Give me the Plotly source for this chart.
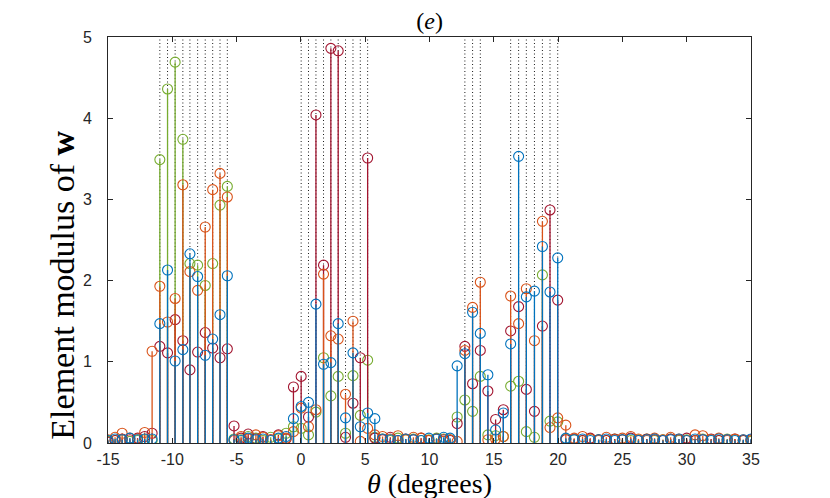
import plotly.graph_objects as go

# angle grid (degrees), split into background / interference segments
theta = [
    -15.0, -14.45, -13.9, -13.3, -12.7, -12.15, -11.57,                       # bg
    -10.97, -10.37, -9.78, -9.18, -8.63, -8.03, -7.44, -6.86, -6.29, -5.72,   # group 1
    -5.2, -4.65, -4.1, -3.5, -2.95, -2.35, -1.75, -1.15, -0.58,               # bg
    0.02, 0.59, 1.17, 1.76, 2.33, 2.90, 3.47, 4.05, 4.62, 5.19,               # group 2
    5.75, 6.35, 6.95, 7.55, 8.15, 8.75, 9.35, 9.95, 10.55, 11.1, 11.6, 12.15, # bg
    12.75, 13.35, 13.95,                                                      # group 3
    14.54, 15.14, 15.74,                                                      # bg
    16.31, 16.93, 17.53, 18.16, 18.78, 19.37, 19.97,                          # group 4
    20.6, 21.25, 21.9, 22.5, 23.15, 23.75, 24.4, 25.0, 25.65, 26.25, 26.9, 27.5,
    28.15, 28.75, 29.4, 30.0, 30.65, 31.25, 31.9, 32.5, 33.15, 33.75, 34.4, 35.0,
]

# dotted reference lines (interference directions)
theta_marks = [
    -10.97, -10.37, -9.78, -9.18, -8.63, -8.03, -7.44, -6.86, -6.29, -5.72,
    0.02, 0.59, 1.17, 1.76, 2.33, 2.90, 3.47, 4.05, 4.62, 5.19,
    12.75, 13.35, 13.95,
    16.31, 16.93, 17.53, 18.16, 18.78, 19.37, 19.97,
]

x_ticks = [-15, -10, -5, 0, 5, 10, 15, 20, 25, 30, 35]
y_ticks = [0, 1, 2, 3, 4, 5]

w_blue = [
    0.03, 0.05, 0.04, 0.06, 0.04, 0.05, 0.05,
    1.47, 2.13, 1.01, 1.15, 2.33, 2.05, 1.08, 1.28, 1.58, 2.06,
    0.04, 0.03, 0.06, 0.04, 0.05, 0.03, 0.06, 0.08, 0.30,
    0.45, 0.50, 1.71, 0.97, 0.99, 1.47, 0.31, 1.11, 0.20, 0.37,
    0.30, 0.05, 0.04, 0.03, 0.05, 0.04, 0.03, 0.06, 0.05, 0.07, 0.06, 0.95,
    1.10, 1.61, 1.35,
    0.84, 0.16, 0.37,
    1.22, 3.53, 1.80, 1.87, 2.42, 1.86, 2.28,
    0.06, 0.04, 0.05, 0.03, 0.04, 0.05, 0.03, 0.04, 0.05, 0.03, 0.04, 0.05,
    0.03, 0.04, 0.05, 0.03, 0.05, 0.04, 0.03, 0.05, 0.04, 0.03, 0.04, 0.05,
]

w_orange = [
    0.04, 0.07, 0.12, 0.06, 0.05, 0.13, 1.13,
    1.93, 1.49, 1.78, 3.18, 2.11, 1.88, 2.66, 3.12, 3.32, 3.03,
    0.03, 0.08, 0.05, 0.10, 0.07, 0.04, 0.09, 0.06, 0.14,
    0.43, 0.20, 0.41, 2.08, 1.32, 1.28, 0.60, 1.50, 0.02, 0.18,
    0.10, 0.08, 0.05, 0.09, 0.04, 0.07, 0.06, 0.03, 0.05, 0.02, 0.04, 0.02,
    1.14, 1.67, 1.98,
    0.04, 0.05, 0.08,
    1.81, 1.47, 1.90, 1.26, 2.73, 0.19, 0.31,
    0.22, 0.06, 0.08, 0.05, 0.03, 0.07, 0.04, 0.06, 0.08, 0.05, 0.03, 0.06,
    0.04, 0.07, 0.05, 0.03, 0.10, 0.09, 0.04, 0.06, 0.03, 0.05, 0.04, 0.03,
]

w_green = [
    0.02, 0.03, 0.04, 0.02, 0.03, 0.04, 0.03,
    3.49, 4.36, 4.69, 3.74, 2.21, 2.19, 1.94, 2.21, 2.93, 3.16,
    0.05, 0.04, 0.08, 0.06, 0.03, 0.07, 0.05, 0.12, 0.20,
    0.18, 0.10, 0.38, 1.05, 0.58, 0.82, 0.12, 0.83, 0.34, 1.02,
    0.07, 0.05, 0.03, 0.06, 0.04, 0.05, 0.03, 0.04, 0.06, 0.05, 0.04, 0.32,
    0.53, 0.39, 0.82,
    0.10, 0.09, 0.08,
    0.70, 0.76, 0.14, 0.07, 2.07, 0.27, 0.26,
    0.05, 0.04, 0.03, 0.05, 0.04, 0.03, 0.05, 0.04, 0.03, 0.04, 0.05, 0.03,
    0.04, 0.05, 0.03, 0.04, 0.03, 0.05, 0.04, 0.03, 0.05, 0.04, 0.03, 0.02,
]

w_red = [
    0.01, 0.03, 0.05, 0.04, 0.06, 0.08, 0.12,
    1.19, 1.11, 1.52, 1.26, 0.90, 1.12, 1.36, 1.17, 1.05, 1.16,
    0.21, 0.06, 0.11, 0.05, 0.08, 0.04, 0.10, 0.05, 0.69,
    0.82, 0.32, 4.04, 2.19, 4.86, 4.83, 0.07, 0.49, 1.05, 3.51,
    0.06, 0.04, 0.07, 0.03, 0.05, 0.04, 0.06, 0.03, 0.05, 0.04, 0.03, 0.24,
    1.19, 0.73, 1.14,
    0.64, 0.29, 0.41,
    1.38, 1.68, 0.66, 0.39, 1.44, 2.87, 1.76,
    0.04, 0.05, 0.03, 0.06, 0.04, 0.03, 0.05, 0.04, 0.06, 0.03, 0.05, 0.04,
    0.03, 0.05, 0.04, 0.06, 0.03, 0.04, 0.05, 0.03, 0.04, 0.05, 0.03, 0.04,
]

# drawing order: first one ends up underneath
series = [
    ("green", w_green, "#77AC30"),
    ("red", w_red, "#A2142F"),
    ("orange", w_orange, "#D95319"),
    ("blue", w_blue, "#0072BD"),
]

fig = go.Figure()

# dotted vertical guides
gx, gy = [], []
for t in theta_marks:
    gx += [t, t, None]
    gy += [0, 5, None]
fig.add_trace(go.Scatter(x=gx, y=gy, mode="lines", hoverinfo="skip",
                         line=dict(color="black", width=0.9, dash="1px,2.5px")))

for name, vals, col in series:
    sx, sy = [], []
    for t, v in zip(theta, vals):
        sx += [t, t, None]
        sy += [0, v, None]
    fig.add_trace(go.Scatter(x=sx, y=sy, mode="lines", hoverinfo="skip",
                             line=dict(color=col, width=1.3)))
    fig.add_trace(go.Scatter(x=theta, y=vals, mode="markers", name=name,
                             marker=dict(symbol="circle-open", size=10,
                                         color=col, line=dict(width=1.1))))

axis_common = dict(
    showgrid=False, zeroline=False, showline=True, mirror="ticks",
    linecolor="#262626", linewidth=1, ticks="inside", ticklen=5,
    tickcolor="#262626",
    tickfont=dict(family="Liberation Sans, Arial", size=16, color="#262626"),
)

# y label sits a bit below the axis middle in the original, so use an annotation
fig.add_annotation(
    text="Element modulus of <b>w</b>", textangle=-90,
    xref="paper", yref="paper", x=-0.07, y=0.39,
    xanchor="center", yanchor="middle", showarrow=False,
    font=dict(family="Liberation Serif", size=34, color="black"),
)

# page body adds an 8px offset, margins below compensate for it
fig.update_layout(
    width=830, height=498,
    margin=dict(l=100, r=87, t=29, b=63),
    plot_bgcolor="white", paper_bgcolor="white",
    showlegend=False,
    title=dict(text="(<i>e</i>)", x=0.508, xanchor="center", y=0.975,
               yanchor="middle",
               font=dict(family="Liberation Serif, Times New Roman", size=24,
                         color="black")),
    xaxis=dict(range=[-15, 35], tickvals=x_ticks,
               ticktext=[str(v) for v in x_ticks],
               ticklabelstandoff=2,
               title=dict(text="<i>θ</i> (degrees)", standoff=0,
                          font=dict(family="Liberation Serif", size=28,
                                    color="black")),
               **axis_common),
    yaxis=dict(range=[0, 5], tickvals=y_ticks, ticklabelstandoff=12,
               **axis_common),
)

fig.write_html("out.html")
